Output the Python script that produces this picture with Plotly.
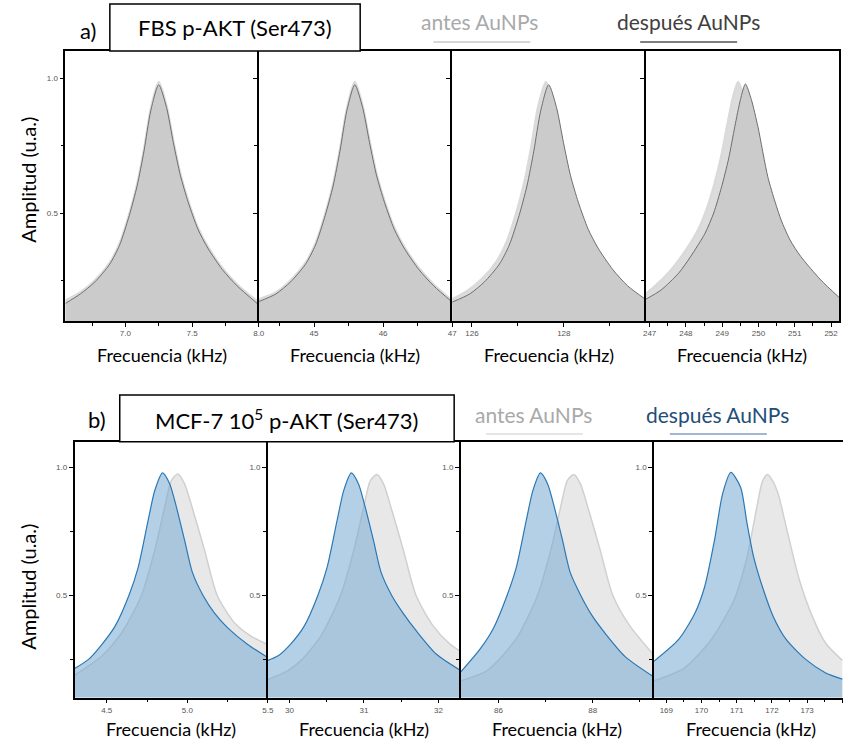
import plotly.graph_objects as go

W, H = 849, 743

# ---------------- DATA ----------------
# Top row: FBS p-AKT (Ser473)
top1_x = [6.55, 6.662, 6.772, 6.882, 6.956, 7.029, 7.088, 7.140, 7.191, 7.25, 7.309, 7.360, 7.412, 7.471, 7.544, 7.618, 7.728, 7.838, 8.0]
top1_antes_y = [0.175, 0.205, 0.25, 0.315, 0.385, 0.495, 0.605, 0.735, 0.885, 0.985, 0.895, 0.765, 0.645, 0.545, 0.445, 0.375, 0.295, 0.235, 0.168]
top1_despues_y = [0.165, 0.20, 0.245, 0.31, 0.38, 0.49, 0.60, 0.73, 0.88, 0.975, 0.89, 0.76, 0.64, 0.54, 0.44, 0.37, 0.29, 0.23, 0.16]

top2_x = [44.2, 44.447, 44.661, 44.876, 45.019, 45.161, 45.276, 45.376, 45.476, 45.59, 45.704, 45.804, 45.904, 46.019, 46.161, 46.304, 46.519, 46.733, 47.0]
top2_antes_y = [0.18, 0.205, 0.25, 0.315, 0.385, 0.495, 0.605, 0.735, 0.885, 0.985, 0.895, 0.765, 0.645, 0.545, 0.445, 0.375, 0.295, 0.235, 0.175]
top2_despues_y = [0.172, 0.20, 0.245, 0.31, 0.38, 0.49, 0.60, 0.73, 0.88, 0.975, 0.89, 0.76, 0.64, 0.54, 0.44, 0.37, 0.29, 0.23, 0.17]

top3_antes_x = [125.57, 125.89, 126.212, 126.535, 126.75, 126.965, 127.137, 127.287, 127.438, 127.61, 127.782, 127.933, 128.083, 128.255, 128.47, 128.685, 129.008, 129.33, 129.78]
top3_antes_y = [0.18, 0.21, 0.255, 0.32, 0.39, 0.50, 0.61, 0.74, 0.89, 0.985, 0.895, 0.765, 0.645, 0.545, 0.445, 0.37, 0.285, 0.225, 0.175]
top3_despues_x = [125.57, 125.95, 126.272, 126.595, 126.81, 127.025, 127.197, 127.347, 127.498, 127.67, 127.842, 127.993, 128.143, 128.315, 128.53, 128.745, 129.068, 129.39, 129.78]
top3_despues_y = [0.17, 0.20, 0.245, 0.31, 0.38, 0.49, 0.60, 0.73, 0.88, 0.975, 0.89, 0.76, 0.64, 0.54, 0.44, 0.37, 0.29, 0.23, 0.18]

top4_antes_x = [246.889, 247.118, 247.598, 247.937, 248.328, 248.566, 248.784, 248.976, 249.148, 249.303, 249.44, 249.604, 249.784, 250.057, 250.26, 250.424, 250.67, 250.97, 251.517, 252.216]
top4_antes_y = [0.20, 0.225, 0.29, 0.35, 0.435, 0.51, 0.605, 0.71, 0.83, 0.93, 0.985, 0.925, 0.82, 0.63, 0.535, 0.465, 0.39, 0.325, 0.235, 0.175]
top4_despues_x = [246.889, 247.318, 247.798, 248.137, 248.528, 248.766, 248.984, 249.176, 249.348, 249.503, 249.64, 249.804, 249.984, 250.257, 250.46, 250.624, 250.87, 251.17, 251.717, 252.216]
top4_despues_y = [0.18, 0.215, 0.277, 0.34, 0.425, 0.50, 0.597, 0.70, 0.82, 0.92, 0.978, 0.92, 0.82, 0.634, 0.54, 0.474, 0.40, 0.338, 0.252, 0.188]

# Bottom row: MCF-7 10^5 p-AKT (Ser473)
bot1_antes_x = [4.3, 4.469, 4.593, 4.716, 4.798, 4.860, 4.901, 4.942, 4.983, 5.035, 5.107, 5.185, 5.292, 5.395, 5.5]
bot1_antes_y = [0.187, 0.262, 0.353, 0.5, 0.676, 0.845, 0.948, 0.974, 0.935, 0.832, 0.676, 0.5, 0.392, 0.34, 0.307]
bot1_despues_x = [4.3, 4.387, 4.469, 4.551, 4.638, 4.696, 4.757, 4.798, 4.846, 4.891, 4.932, 4.983, 5.031, 5.097, 5.169, 5.251, 5.375, 5.5]
bot1_despues_y = [0.213, 0.249, 0.307, 0.378, 0.5, 0.611, 0.793, 0.909, 0.978, 0.935, 0.845, 0.715, 0.59, 0.5, 0.43, 0.372, 0.307, 0.256]

bot2_antes_x = [29.71, 29.978, 30.155, 30.421, 30.687, 30.864, 30.997, 31.086, 31.175, 31.263, 31.374, 31.529, 31.698, 31.928, 32.15, 32.30]
bot2_antes_y = [0.17, 0.205, 0.245, 0.34, 0.5, 0.676, 0.845, 0.948, 0.972, 0.935, 0.832, 0.676, 0.5, 0.38, 0.31, 0.28]
bot2_despues_x = [29.71, 29.842, 30.019, 30.196, 30.382, 30.507, 30.640, 30.728, 30.83, 30.927, 31.016, 31.127, 31.229, 31.371, 31.525, 31.704, 31.970, 32.30]
bot2_despues_y = [0.245, 0.262, 0.31, 0.378, 0.5, 0.611, 0.793, 0.909, 0.978, 0.935, 0.845, 0.715, 0.59, 0.5, 0.43, 0.36, 0.27, 0.205]

bot3_antes_x = [85.2, 85.713, 85.992, 86.411, 86.831, 87.109, 87.319, 87.46, 87.6, 87.738, 87.914, 88.158, 88.424, 88.787, 89.30]
bot3_antes_y = [0.165, 0.2, 0.245, 0.34, 0.5, 0.676, 0.845, 0.948, 0.972, 0.935, 0.832, 0.676, 0.5, 0.38, 0.265]
bot3_despues_x = [85.2, 85.611, 85.89, 86.183, 86.381, 86.59, 86.729, 86.89, 87.043, 87.183, 87.358, 87.519, 87.743, 87.986, 88.267, 88.687, 89.30]
bot3_despues_y = [0.2, 0.29, 0.37, 0.5, 0.611, 0.793, 0.909, 0.978, 0.935, 0.845, 0.715, 0.59, 0.5, 0.42, 0.35, 0.26, 0.18]

bot4_antes_x = [168.65, 169.509, 170.278, 170.926, 171.295, 171.573, 171.731, 171.87, 172.009, 172.176, 172.406, 172.778, 173.148, 173.517, 174.0]
bot4_antes_y = [0.165, 0.215, 0.327, 0.482, 0.65, 0.845, 0.945, 0.972, 0.95, 0.897, 0.767, 0.56, 0.417, 0.314, 0.245]
bot4_despues_x = [168.65, 169.35, 169.814, 170.091, 170.369, 170.6, 170.833, 171.111, 171.294, 171.48, 171.758, 172.036, 172.405, 172.961, 173.516, 174.0]
bot4_despues_y = [0.242, 0.327, 0.43, 0.534, 0.715, 0.897, 0.98, 0.922, 0.78, 0.65, 0.521, 0.417, 0.327, 0.249, 0.197, 0.172]

top_ranges = [[6.55, 8.0], [44.2, 47.0], [125.57, 129.78], [246.89, 252.22]]
bot_ranges = [[4.3, 5.5], [29.71, 32.30], [85.2, 89.3], [168.65, 174.02]]
top_dticks = [(0.5, 0.25, ".1f"), (1, 0.5, "d"), (2, 1, "d"), (1, 0.5, "d")]
bot_dticks = [(0.5, 0.25, ".1f"), (1, 0.5, "d"), (2, 1, "d"), (1, 0.5, "d")]
y_range = [0.1, 1.1]

x_title = "Frecuencia (kHz)"
y_title = "Amplitud (u.a.)"
legend_antes = "antes AuNPs"
legend_despues = "después AuNPs"
label_a = "a)"
label_b = "b)"
title_a = "FBS p-AKT (Ser473)"
title_b = "MCF-7 10<sup>5</sup> p-AKT (Ser473)"

# ---------------- LAYOUT helpers ----------------
def px(x):
    return x / W

def py(y):
    return 1 - y / H

top_edges = [63, 258.5, 454, 649.5, 845]
bot_edges = [72.3, 267.7, 462.7, 658, 849]
top_y = [py(321), py(51)]
bot_y = [py(697.5), py(441.7)]

fig = go.Figure()

top_data = [
    (top1_x, top1_antes_y, top1_x, top1_despues_y),
    (top2_x, top2_antes_y, top2_x, top2_despues_y),
    (top3_antes_x, top3_antes_y, top3_despues_x, top3_despues_y),
    (top4_antes_x, top4_antes_y, top4_despues_x, top4_despues_y),
]
bot_data = [
    (bot1_antes_x, bot1_antes_y, bot1_despues_x, bot1_despues_y),
    (bot2_antes_x, bot2_antes_y, bot2_despues_x, bot2_despues_y),
    (bot3_antes_x, bot3_antes_y, bot3_despues_x, bot3_despues_y),
    (bot4_antes_x, bot4_antes_y, bot4_despues_x, bot4_despues_y),
]

tickfont = dict(family="Liberation Sans, Arial", size=8, color="#555555")

def axname(i):
    return "" if i == 1 else str(i)

layout_axes = {}
for row in range(2):
    for k in range(4):
        i = row * 4 + k + 1
        xa = "x" + axname(i)
        ya = "y" + axname(i)
        if row == 0:
            ax_, ay_, dx_, dy_ = top_data[k]
            a_line = dict(color="#dadada", width=2.5, shape="spline", smoothing=0.7)
            a_fill = "#dcdcdc"
            d_line = dict(color="#6e6e6e", width=1, shape="spline", smoothing=0.7)
            d_fill = "#cbcbcb"
            edges, ydom, rng, dt = top_edges, top_y, top_ranges[k], top_dticks[k]
            show_ylab = (k == 0)
        else:
            ax_, ay_, dx_, dy_ = bot_data[k]
            a_line = dict(color="#d0d0d0", width=1.5, shape="spline", smoothing=0.7)
            a_fill = "#e8e8e8"
            d_line = dict(color="#2a78b5", width=1.2, shape="spline", smoothing=0.7)
            d_fill = "rgba(118,170,210,0.55)"
            edges, ydom, rng, dt = bot_edges, bot_y, bot_ranges[k], bot_dticks[k]
            show_ylab = True
        fig.add_trace(go.Scatter(x=ax_, y=ay_, mode="lines", line=a_line, fill="tozeroy",
                                 fillcolor=a_fill, xaxis=xa, yaxis=ya, showlegend=False,
                                 hoverinfo="skip"))
        fig.add_trace(go.Scatter(x=dx_, y=dy_, mode="lines", line=d_line, fill="tozeroy",
                                 fillcolor=d_fill, xaxis=xa, yaxis=ya, showlegend=False,
                                 hoverinfo="skip"))
        last_bottom = (row == 1 and k == 3)
        layout_axes["xaxis" + axname(i)] = dict(
            domain=[px(edges[k]), px(edges[k + 1])], range=rng, anchor=ya,
            showline=True, linecolor="black", linewidth=1.5, mirror=True,
            showgrid=False, zeroline=False,
            ticks="outside", ticklen=4, tickcolor="black", tickwidth=1,
            tick0=0, dtick=dt[0], tickformat=dt[2], tickfont=tickfont,
            minor=dict(dtick=dt[1], tick0=0, ticks="outside", ticklen=3, tickcolor="black"),
        )
        layout_axes["yaxis" + axname(i)] = dict(
            domain=ydom, range=y_range, anchor=xa,
            showline=True, linecolor="black", linewidth=1.5,
            mirror=(not last_bottom) and (k == 3),
            showgrid=False, zeroline=False,
            ticks="outside", ticklen=4, tickcolor="black", tickwidth=1,
            tick0=0, dtick=0.5, tickformat=".1f", tickfont=tickfont,
            showticklabels=show_ylab,
            minor=dict(dtick=0.25, tick0=0, ticks="outside", ticklen=3, tickcolor="black"),
        )

FONT = "Lato, Open Sans, sans-serif"
annotations = []
shapes = []

def text(x, y, s, size, color="black", angle=0):
    annotations.append(dict(x=px(x), y=py(y), xref="paper", yref="paper", text=s,
                            showarrow=False, textangle=angle,
                            font=dict(family=FONT, size=size, color=color),
                            xanchor="center", yanchor="middle"))

# x-axis titles
for k in range(4):
    text((top_edges[k] + top_edges[k + 1]) / 2, 355, x_title, 18)
    right = bot_edges[k + 1] if k < 3 else 853.5
    text((bot_edges[k] + right) / 2, 729, x_title, 18)
# y-axis titles
text(25, 180, y_title, 20, angle=-90)
text(25, 587, y_title, 20, angle=-90)

# panel labels and title boxes
shapes.append(dict(type="rect", xref="paper", yref="paper", x0=px(108), x1=px(361),
                   y0=py(51), y1=py(4), line=dict(color="black", width=1.5),
                   fillcolor="white", layer="above"))
shapes.append(dict(type="rect", xref="paper", yref="paper", x0=px(118), x1=px(456),
                   y0=py(441.7), y1=py(395), line=dict(color="black", width=1.5),
                   fillcolor="white", layer="above"))
text(86, 30, label_a, 22)
text(234.5, 28, title_a, 22)
text(95, 419, label_b, 22)
text(287, 419, title_b, 22)

# legends
legend_specs = [
    (482, 21, legend_antes, "#a9a9a9", 435, 533, 42, "#c8c8c8"),
    (693, 21, legend_despues, "#404040", 644, 742, 42, "#555555"),
    (536, 414, legend_antes, "#a9a9a9", 488, 586, 434, "#dcdcdc"),
    (722, 414, legend_despues, "#1f4e79", 674, 772, 434, "#7f9fc0"),
]
for cx, cy, txt, col, lx0, lx1, ly, lcol in legend_specs:
    text(cx, cy, txt, 21, col)
    shapes.append(dict(type="line", xref="paper", yref="paper", x0=px(lx0), x1=px(lx1),
                       y0=py(ly), y1=py(ly), line=dict(color=lcol, width=1.5)))

fig.update_layout(
    width=W, height=H, margin=dict(l=0, r=0, t=0, b=0),
    paper_bgcolor="white", plot_bgcolor="white",
    showlegend=False, annotations=annotations, shapes=shapes,
    **layout_axes,
)

fig.write_html("out.html")
